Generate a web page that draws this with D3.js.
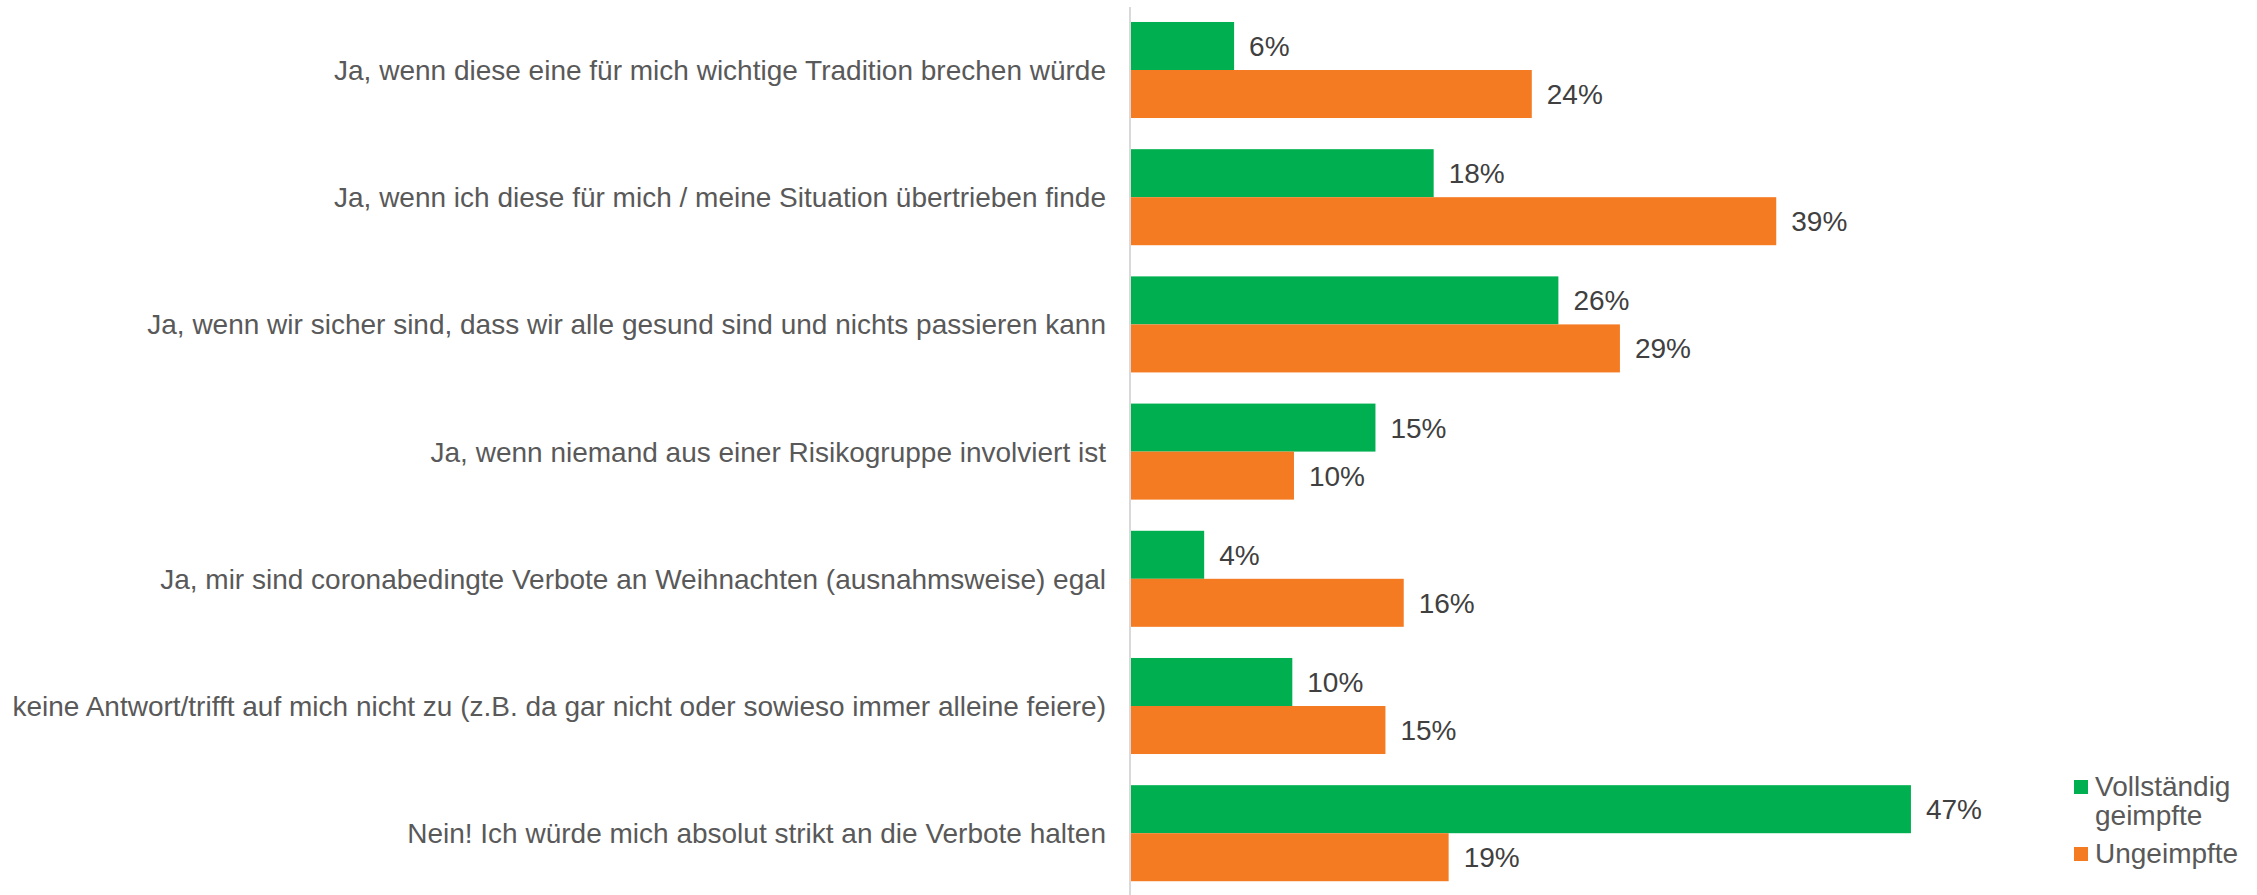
<!DOCTYPE html>
<html>
<head>
<meta charset="utf-8">
<script src="https://cdn.jsdelivr.net/npm/d3@7"></script>
<style>
  html, body { margin: 0; padding: 0; background: #fff; }
  svg { display: block; font-family: "Liberation Sans", Arial, sans-serif; }
</style>
</head>
<body>
<svg id="drawing_region"></svg>
<script>
// answers (top to bottom)
const categories = [
  "Ja, wenn diese eine für mich wichtige Tradition brechen würde",
  "Ja, wenn ich diese für mich / meine Situation übertrieben finde",
  "Ja, wenn wir sicher sind, dass wir alle gesund sind und nichts passieren kann",
  "Ja, wenn niemand aus einer Risikogruppe involviert ist",
  "Ja, mir sind coronabedingte Verbote an Weihnachten (ausnahmsweise) egal",
  "keine Antwort/trifft auf mich nicht zu (z.B. da gar nicht oder sowieso immer alleine feiere)",
  "Nein! Ich würde mich absolut strikt an die Verbote halten"
];
const seriesNames = ["Vollständig geimpfte", "Ungeimpfte"];
const legendLines = [["Vollständig", "geimpfte"], ["Ungeimpfte"]];
// shares in %
const geimpft   = [6.2, 18.2, 25.7, 14.7, 4.4, 9.7, 46.9];
const ungeimpft = [24.1, 38.8, 29.4, 9.8, 16.4, 15.3, 19.1];
const colors = ["#00b050", "#f47b22"];

const W = 2257, H = 895;

const svg = d3.select('#drawing_region')
    .attr('width', W)
    .attr('height', H);

const rows = categories.map((c, i) => ({ label: c, values: [geimpft[i], ungeimpft[i]] }));

const x = d3.scaleLinear()
    .domain([0, 50])
    .range([1131, 1131 + 16.63 * 50]);

const y = d3.scaleBand()
    .domain(categories)
    .range([6.4, 896.8])
    .paddingInner(0.245)
    .paddingOuter(0.1225);

const ySub = d3.scaleBand()
    .domain([0, 1])
    .range([0, y.bandwidth()]);

// category axis line
svg.append('line')
    .attr('x1', x(0) - 1).attr('x2', x(0) - 1)
    .attr('y1', 7).attr('y2', H)
    .attr('stroke', '#d9d9d9')
    .attr('stroke-width', 2);

const g = svg.selectAll('g.row')
    .data(rows)
    .enter()
    .append('g')
    .attr('class', 'row')
    .attr('transform', d => `translate(0, ${y(d.label)})`);

g.selectAll('rect')
    .data(d => d.values)
    .enter()
    .append('rect')
    .attr('x', x(0))
    .attr('y', (d, i) => ySub(i))
    .attr('width', d => x(d) - x(0))
    .attr('height', ySub.bandwidth())
    .attr('fill', (d, i) => colors[i]);

g.selectAll('text.val')
    .data(d => d.values)
    .enter()
    .append('text')
    .attr('class', 'val')
    .attr('x', d => x(d) + 15)
    .attr('y', (d, i) => ySub(i) + ySub.bandwidth() / 2)
    .attr('dy', '0.36em')
    .attr('fill', '#404040')
    .style('font-size', '28px')
    .text(d => Math.round(d) + '%');

// category labels
svg.selectAll('text.cat')
    .data(categories)
    .enter()
    .append('text')
    .attr('class', 'cat')
    .attr('x', x(0) - 25)
    .attr('y', d => y(d) + y.bandwidth() / 2)
    .attr('dy', '0.36em')
    .attr('text-anchor', 'end')
    .attr('fill', '#595959')
    .style('font-size', '28px')
    .text(d => d);

// legend
const legendY = [787, 854];
const legend = svg.append('g');
seriesNames.forEach((name, i) => {
    legend.append('rect')
        .attr('x', 2074).attr('y', legendY[i] - 7)
        .attr('width', 14).attr('height', 14)
        .attr('fill', colors[i]);
    const t = legend.append('text')
        .attr('x', 2095)
        .attr('y', legendY[i] + 9)
        .attr('fill', '#595959')
        .style('font-size', '28px');
    legendLines[i].forEach((line, j) => {
        t.append('tspan')
            .attr('x', 2095)
            .attr('dy', j === 0 ? 0 : 29)
            .text(line);
    });
});
</script>
</body>
</html>
